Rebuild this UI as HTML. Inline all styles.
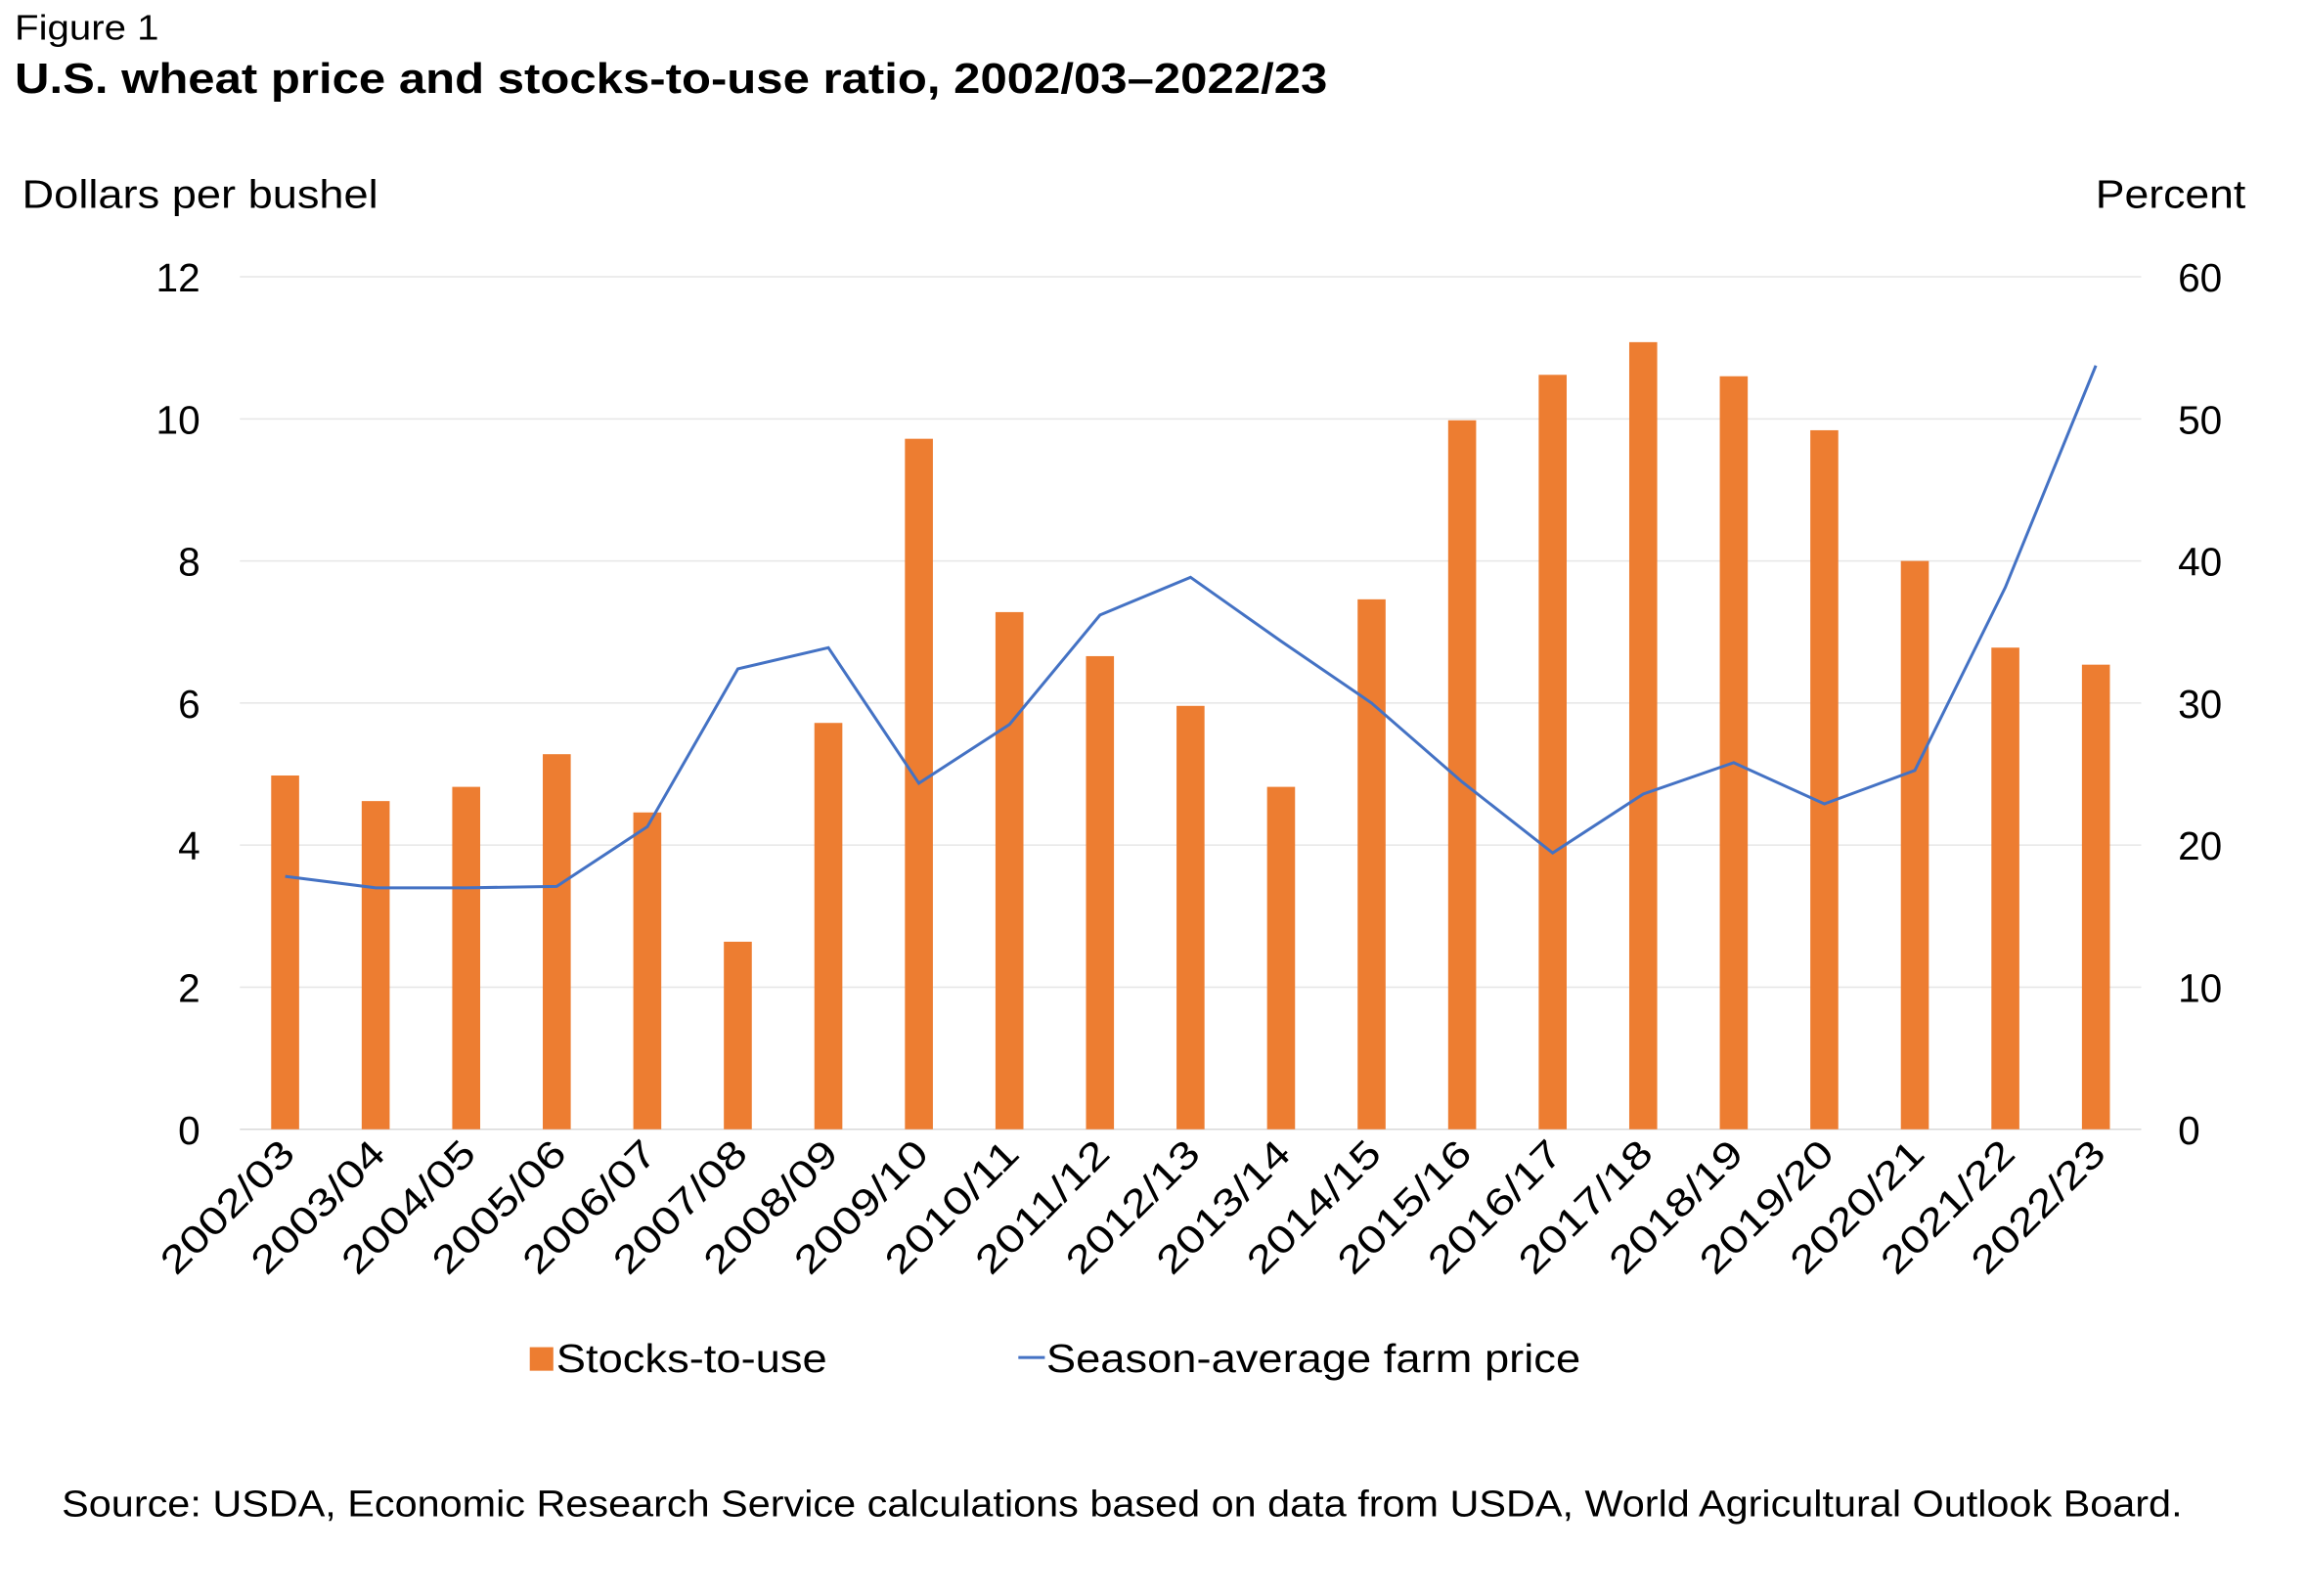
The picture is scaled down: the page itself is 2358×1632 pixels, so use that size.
<!DOCTYPE html>
<html><head><meta charset="utf-8"><style>
html,body{margin:0;padding:0;background:#fff;}
svg{display:block;font-family:"Liberation Sans",Arial,sans-serif;}
</style></head><body>
<svg id="chart" width="2358" height="1632" viewBox="0 0 1567 1084" preserveAspectRatio="none" xmlns="http://www.w3.org/2000/svg">
<text x="10" y="27" font-size="24" fill="#000" textLength="98" lengthAdjust="spacingAndGlyphs">Figure 1</text>
<text x="10" y="63" font-size="29" font-weight="bold" fill="#000" textLength="892" lengthAdjust="spacingAndGlyphs">U.S. wheat price and stocks-to-use ratio, 2002/03–2022/23</text>
<text x="15" y="141" font-size="27" fill="#000" textLength="242" lengthAdjust="spacingAndGlyphs">Dollars per bushel</text>
<text x="1424" y="141" font-size="27" fill="#000" textLength="102" lengthAdjust="spacingAndGlyphs">Percent</text>
<g id="grid"></g><g id="bars"></g><g id="line"></g><g id="axes"></g>
<g>
<rect x="360" y="915" width="16" height="16" fill="#ED7D31"/>
<text x="378" y="932" font-size="27" textLength="184" lengthAdjust="spacingAndGlyphs">Stocks-to-use</text>
<line x1="692" y1="922" x2="710" y2="922" stroke="#4472C4" stroke-width="2"/>
<text x="711" y="932" font-size="27" textLength="363" lengthAdjust="spacingAndGlyphs">Season-average farm price</text>
</g>
<text x="42" y="1030" font-size="25" textLength="1441" lengthAdjust="spacingAndGlyphs">Source: USDA, Economic Research Service calculations based on data from USDA, World Agricultural Outlook Board.</text>
</svg>
<script>
const categories=["2002/03","2003/04","2004/05","2005/06","2006/07","2007/08","2008/09","2009/10","2010/11","2011/12","2012/13","2013/14","2014/15","2015/16","2016/17","2017/18","2018/19","2019/20","2020/21","2021/22","2022/23"];
const stocksToUse=[24.9,23.1,24.1,26.4,22.3,13.2,28.6,48.6,36.4,33.3,29.8,24.1,37.3,49.9,53.1,55.4,53.0,49.2,40.0,33.9,32.7];
const farmPrice=[3.56,3.40,3.40,3.42,4.26,6.48,6.78,4.87,5.70,7.24,7.77,6.87,6.00,4.89,3.89,4.72,5.16,4.58,5.05,7.63,10.75];
const leftTicks=[0,2,4,6,8,10,12];
const rightTicks=[0,10,20,30,40,50,60];
const NS="http://www.w3.org/2000/svg";
const X0=163,X1=1455,Y0=767,Y1=188;
const band=(X1-X0)/categories.length;
const xc=i=>X0+band*(i+0.5);
const yL=v=>Y0-(v/12)*(Y0-Y1);
const yR=v=>Y0-(v/60)*(Y0-Y1);
function mk(tag,attrs,parent){const e=document.createElementNS(NS,tag);for(const k in attrs)e.setAttribute(k,attrs[k]);parent.appendChild(e);return e;}
const grid=document.getElementById('grid'),bars=document.getElementById('bars'),line=document.getElementById('line'),axes=document.getElementById('axes');
leftTicks.forEach((t,i)=>{
 const y=yL(t);
 const g=mk('line',{x1:X0,x2:X1,y1:y,y2:y,stroke:i===0?'#d9d9d9':'#e6e6e6','stroke-width':1},grid);
 
 
 const l=mk('text',{x:136,y:y+10,'font-size':27,'text-anchor':'end',textLength:String(t).length*15,lengthAdjust:'spacingAndGlyphs'},axes);l.textContent=t;
 
 
});
rightTicks.forEach(t=>{
 const y=yR(t);
 const l=mk('text',{x:1480,y:y+10,'font-size':27,textLength:String(t).length*15,lengthAdjust:'spacingAndGlyphs'},axes);l.textContent=t;
 
 
});
categories.forEach((c,i)=>{
 const y=yR(stocksToUse[i]);
 const b=mk('rect',{x:xc(i)-9.5,y:y,width:19,height:Y0-y,fill:'#ED7D31'},bars);
 
 
 const l=mk('text',{x:0,y:0,'font-size':26,'text-anchor':'end',textLength:116,lengthAdjust:'spacingAndGlyphs',transform:`translate(${xc(i)+8},${Y0+18}) rotate(-45)`},axes);l.textContent=c;
 
 
});
const pts=farmPrice.map((v,i)=>xc(i).toFixed(1)+','+yL(v).toFixed(1)).join(' ');
const pl=mk('polyline',{points:pts,fill:'none',stroke:'#4472C4','stroke-width':2},line);


</script>
</body></html>
